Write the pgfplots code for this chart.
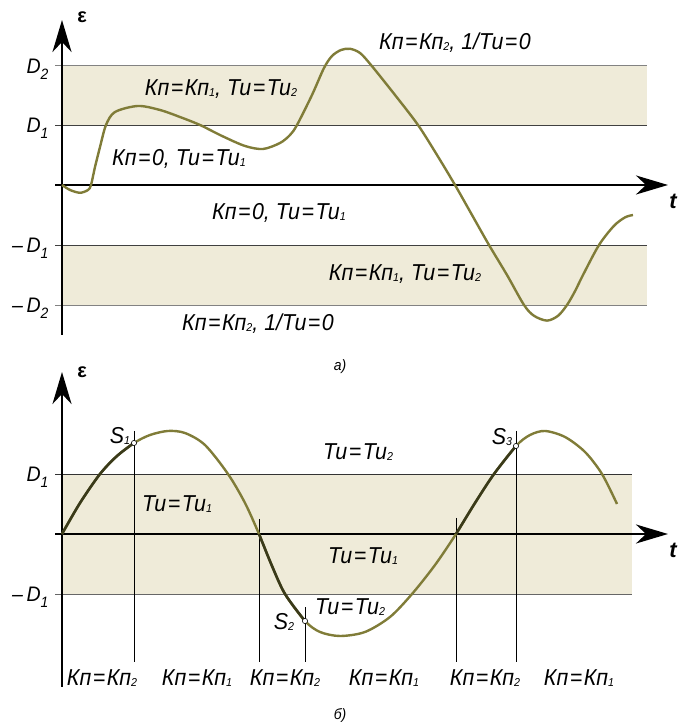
\documentclass[border=0pt]{standalone}
\usepackage{pgfplots}
\pgfplotsset{compat=1.18}
\usetikzlibrary{arrows.meta}
\usepackage{fontspec}
\setmainfont{Liberation Sans}
\newfontfamily\cf{Liberation Sans}[FakeStretch=0.93]
\definecolor{band}{RGB}{239,235,217}
\definecolor{olive}{RGB}{128,124,56}
\definecolor{dolive}{RGB}{58,58,26}
\definecolor{lgray}{RGB}{130,130,130}
\newcommand\sub[1]{\raisebox{-1pt}{\fontsize{11.5}{11.5}\selectfont #1}}
\newcommand\eq{\kern1.5pt=\kern1.5pt}
\newcommand\lb[1]{{\cf\itshape\fontsize{23}{25}\selectfont #1}}
\newcommand\dl[1]{{\cf\itshape\fontsize{21}{21}\selectfont D\raisebox{-6pt}{\fontsize{15}{15}\selectfont #1}}}
\pgfplotsset{myax/.style={axis lines=none, x=1pt, y=60pt, xmin=-62, xmax=621, clip=false, anchor=south west},
  arr/.style={black, line width=2.6pt, -{Stealth[length=32pt,width=19pt,inset=10pt]}},
  crv/.style={olive, line width=2.4pt, smooth}}
\begin{document}
\begin{tikzpicture}
\useasboundingbox (0,0) rectangle (683pt,722pt);
% ---------------- panel a
\begin{axis}[myax, ymin=-2.9, ymax=3.0, at={(0pt,363pt)}]
\addplot[fill=band, draw=none] coordinates {(0,1) (585,1) (585,2) (0,2)} -- cycle;
\addplot[fill=band, draw=none] coordinates {(0,-1) (585,-1) (585,-2) (0,-2)} -- cycle;
\addplot[lgray, line width=0.9pt] coordinates {(-7,2) (585,2)};
\addplot[black!75, line width=0.9pt] coordinates {(-7,1) (585,1)};
\addplot[black!75, line width=0.9pt] coordinates {(-7,-1) (585,-1)};
\addplot[lgray, line width=0.9pt] coordinates {(-7,-2) (585,-2)};
\addplot[arr] coordinates {(0,-2.5) (0,2.75)};
\addplot[arr] coordinates {(-7,0) (606,0)};
\addplot[crv] coordinates {
(0,0) (8,-0.083) (18,-0.13) (26,-0.083) (29,0) (33,0.3) (38,0.633) (44,1.0) (53,1.217)
(76,1.317) (98,1.25) (118,1.133) (138,1.0) (160,0.817) (183,0.65) (201,0.6) (218,0.7)
(228,0.833) (235,1.0) (250,1.5) (262,1.95) (270,2.15) (279,2.25) (288,2.27) (298,2.2)
(309,2.0) (333,1.5) (356,1.0) (375,0.5) (393,0) (410,-0.5) (427,-1.0) (445,-1.5)
(462,-2.0) (472,-2.18) (485,-2.26) (496,-2.18) (505,-2.0) (513,-1.77) (521,-1.5)
(537,-1.0) (552,-0.68) (563,-0.54) (571,-0.5)};
\node[font=\bfseries\fontsize{20}{20}\selectfont] at (axis cs:20,2.8) {ε};
\node[font=\bfseries\itshape\fontsize{22}{22}\selectfont] at (axis cs:611,-0.27) {t};
\node[anchor=base east] at (axis cs:-10,1.85) {\dl{2}};
\node[anchor=base east] at (axis cs:-10,0.867) {\dl{1}};
\node[anchor=base east] at (axis cs:-10,-1.133) {{\cf\itshape\fontsize{21}{21}\selectfont –\,}\dl{1}};
\node[anchor=base east] at (axis cs:-10,-2.133) {{\cf\itshape\fontsize{21}{21}\selectfont –\,}\dl{2}};
\node at (axis cs:159,1.6) {\lb{Кп\eq Кп\sub{1}, Ти\eq Ти\sub{2}}};
\node at (axis cs:117,0.433) {\lb{Кп\eq 0, Ти\eq Ти\sub{1}}};
\node at (axis cs:217,-0.467) {\lb{Кп\eq 0, Ти\eq Ти\sub{1}}};
\node at (axis cs:196,-2.317) {\lb{Кп\eq Кп\sub{2}, 1/Ти\eq 0}};
\node at (axis cs:393,2.367) {\lb{Кп\eq Кп\sub{2}, 1/Ти\eq 0}};
\node at (axis cs:343,-1.483) {\lb{Кп\eq Кп\sub{1}, Ти\eq Ти\sub{2}}};
\node at (axis cs:278,-3.02) {{\cf\itshape\fontsize{15}{15}\selectfont а)}};
\end{axis}
% ---------------- panel b
\begin{axis}[myax, ymin=-3.1, ymax=3.0, at={(0pt,2pt)}]
\addplot[fill=band, draw=none] coordinates {(0,-1) (570,-1) (570,1) (0,1)} -- cycle;
\addplot[black!80, line width=0.9pt] coordinates {(-7,1) (570,1)};
\addplot[black!60, line width=0.9pt] coordinates {(-7,-1) (570,-1)};
\addplot[black, line width=0.7pt] coordinates {(72,1.72) (72,-2.13)};
\addplot[black, line width=0.7pt] coordinates {(197,0.25) (197,-2.13)};
\addplot[black, line width=0.7pt] coordinates {(243,-1.22) (243,-2.13)};
\addplot[black, line width=0.7pt] coordinates {(394,0.27) (394,-2.13)};
\addplot[black, line width=0.7pt] coordinates {(454,1.72) (454,-2.13)};
\addplot[arr] coordinates {(0,-2.55) (0,2.7)};
\addplot[arr] coordinates {(-7,0) (606,0)};
\addplot[crv] coordinates {
(0,0) (18,0.517) (38,1.0) (55,1.3) (72,1.517) (88,1.65) (106,1.717) (123,1.683)
(143,1.483) (166,1.0) (183,0.517) (197,0) (210,-0.533) (223,-1.0) (243,-1.45)
(258,-1.633) (278,-1.7) (303,-1.633) (328,-1.383) (350,-1.0) (373,-0.517) (394,0)
(413,0.517) (432,1.0) (454,1.467) (468,1.65) (483,1.717) (503,1.617) (523,1.367)
(540,1.0) (555,0.5)};
\addplot[dolive, line width=2.6pt, smooth] coordinates {(0,0) (18,0.517) (38,1.0) (55,1.3) (72,1.517)};
\addplot[dolive, line width=2.6pt, smooth] coordinates {(197,0) (210,-0.533) (223,-1.0) (243,-1.45)};
\addplot[dolive, line width=2.6pt, smooth] coordinates {(394,0) (413,0.517) (432,1.0) (454,1.467)};
\addplot[only marks, mark=*, mark size=2.6pt, mark options={fill=white, draw=black, line width=0.6pt}]
  coordinates {(72,1.517) (243,-1.45) (454,1.467)};
\node[font=\bfseries\fontsize{20}{20}\selectfont] at (axis cs:20,2.7) {ε};
\node[font=\bfseries\itshape\fontsize{22}{22}\selectfont] at (axis cs:611,-0.28) {t};
\node[anchor=base east] at (axis cs:-10,0.867) {\dl{1}};
\node[anchor=base east] at (axis cs:-10,-1.133) {{\cf\itshape\fontsize{21}{21}\selectfont –\,}\dl{1}};
\node at (axis cs:58,1.633) {\lb{S\sub{1}}};
\node at (axis cs:222,-1.467) {\lb{S\sub{2}}};
\node at (axis cs:440,1.617) {\lb{S\sub{3}}};
\node at (axis cs:115,0.5) {\lb{Ти\eq Ти\sub{1}}};
\node at (axis cs:296,1.367) {\lb{Ти\eq Ти\sub{2}}};
\node at (axis cs:301,-0.367) {\lb{Ти\eq Ти\sub{1}}};
\node at (axis cs:288,-1.217) {\lb{Ти\eq Ти\sub{2}}};
\node at (axis cs:40,-2.4) {\lb{Кп\eq Кп\sub{2}}};
\node at (axis cs:135,-2.4) {\lb{Кп\eq Кп\sub{1}}};
\node at (axis cs:223,-2.4) {\lb{Кп\eq Кп\sub{2}}};
\node at (axis cs:322,-2.4) {\lb{Кп\eq Кп\sub{1}}};
\node at (axis cs:423,-2.4) {\lb{Кп\eq Кп\sub{2}}};
\node at (axis cs:517,-2.4) {\lb{Кп\eq Кп\sub{1}}};
\node at (axis cs:278,-3.02) {{\cf\itshape\fontsize{15}{15}\selectfont б)}};
\end{axis}
\end{tikzpicture}
\end{document}
